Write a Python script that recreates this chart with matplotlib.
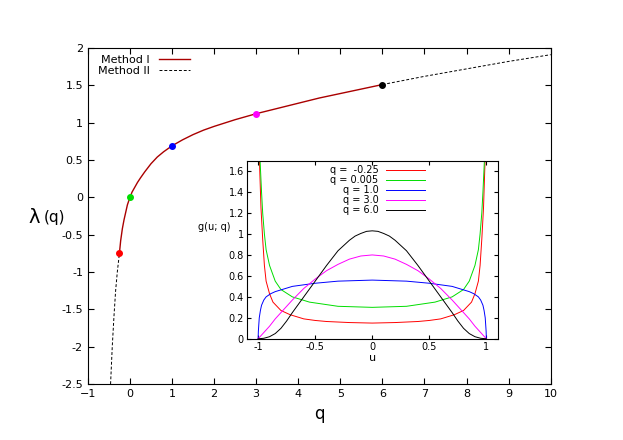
import numpy as np
import matplotlib
matplotlib.use("Agg")
import matplotlib.pyplot as plt

# main curve (Method I)
q1 = [-0.25, -0.22, -0.18, -0.14, -0.1, -0.06, -0.03, 0.0, 0.05, 0.1, 0.18, 0.25, 0.35, 0.5, 0.65, 0.8, 1.0, 1.25, 1.5, 1.75, 2.0, 2.5, 3.0, 3.5, 4.0, 4.5, 5.0, 5.5, 6.0]
l1 = [-0.75, -0.58, -0.42, -0.3, -0.2, -0.1, -0.05, 0.0, 0.07, 0.12, 0.2, 0.26, 0.34, 0.45, 0.54, 0.61, 0.69, 0.77, 0.84, 0.9, 0.95, 1.04, 1.12, 1.19, 1.26, 1.33, 1.39, 1.45, 1.51]
# Method II (dashed extensions)
q2a = [-0.46, -0.42, -0.38, -0.34, -0.3, -0.25]
l2a = [-2.5, -2.0, -1.6, -1.25, -1.0, -0.75]
q2b = [6.0, 7.0, 8.0, 9.0, 10.0]
l2b = [1.51, 1.62, 1.72, 1.82, 1.91]
# highlighted points
qp = [-0.25, 0.005, 1.0, 3.0, 6.0]
lp = [-0.75, 0.0, 0.69, 1.12, 1.51]
cols = ["red", "#00dd00", "blue", "magenta", "black"]
labels = ["q =  -0.25", "q = 0.005", "q = 1.0", "q = 3.0", "q = 6.0"]

# inset g(u;q), left half (u<=0), mirrored
u_red = [-0.99, -0.975, -0.96, -0.945, -0.93, -0.9, -0.87, -0.8, -0.72, -0.6, -0.5, -0.4, -0.2, 0.0]
g_red = [1.75, 1.25, 0.95, 0.7, 0.55, 0.43, 0.35, 0.27, 0.23, 0.19, 0.175, 0.165, 0.155, 0.15]
u_grn = [-0.985, -0.97, -0.96, -0.945, -0.93, -0.9, -0.85, -0.8, -0.7, -0.55, -0.3, 0.0]
g_grn = [1.75, 1.4, 1.2, 1.0, 0.85, 0.7, 0.55, 0.47, 0.4, 0.35, 0.31, 0.3]
u_blu = [-1.0, -0.998, -0.995, -0.99, -0.98, -0.97, -0.95, -0.93, -0.89, -0.85, -0.7, -0.5, -0.3, 0.0]
g_blu = [0.0, 0.07, 0.12, 0.2, 0.27, 0.32, 0.37, 0.4, 0.43, 0.45, 0.5, 0.53, 0.55, 0.56]
u_mag = [-1.0, -0.95, -0.9, -0.85, -0.8, -0.7, -0.6, -0.5, -0.4, -0.3, -0.2, -0.1, 0.0]
g_mag = [0.0, 0.06, 0.12, 0.19, 0.25, 0.37, 0.48, 0.57, 0.65, 0.71, 0.76, 0.79, 0.8]
u_blk = [-1.0, -0.95, -0.9, -0.85, -0.8, -0.75, -0.7, -0.6, -0.5, -0.4, -0.3, -0.2, -0.15, -0.1, -0.05, 0.0]
g_blk = [0.0, 0.005, 0.02, 0.05, 0.1, 0.17, 0.25, 0.4, 0.55, 0.7, 0.84, 0.94, 0.98, 1.005, 1.025, 1.03]

def mirror(u, g):
    u = np.array(u); g = np.array(g)
    return np.concatenate([u, -u[-2::-1]]), np.concatenate([g, g[-2::-1]])

plt.rcParams["font.family"] = "DejaVu Sans"
fig = plt.figure(figsize=(6.23, 4.40), dpi=100)
ax = fig.add_axes([0.141, 0.127, 0.743, 0.764])
ax.plot(q1, l1, color="#aa0000", lw=1.0, label="Method I")
ax.plot(q2a, l2a, color="black", lw=0.7, ls=(0, (3, 2)), label="Method II")
ax.plot(q2b, l2b, color="black", lw=0.7, ls=(0, (3, 2)))
for x, y, c in zip(qp, lp, cols):
    ax.plot(x, y, "o", color=c, ms=4, zorder=5)
ax.set_xlim(-1, 10)
ax.set_ylim(-2.5, 2)
ax.set_xticks(range(-1, 11))
ax.set_yticks(np.arange(-2.5, 2.01, 0.5))
ax.set_yticklabels(["-2.5", "-2", "-1.5", "-1", "-0.5", "0", "0.5", "1", "1.5", "2"])
ax.tick_params(direction="in", top=True, right=True, labelsize=8, length=4)
ax.set_xlabel("q", fontsize=12, labelpad=4)
ax.legend(loc="upper left", frameon=False, fontsize=8, handlelength=2.8,
          bbox_to_anchor=(0.0, 1.01), labelspacing=0.1, markerfirst=False)
fig.text(0.045, 0.505, "λ", fontsize=14, ha="left", va="center")
fig.text(0.07, 0.505, "(q)", fontsize=11, ha="left", va="center")

ins = fig.add_axes([0.396, 0.23, 0.403, 0.405])
for (u, g), c, lab in zip([(u_red, g_red), (u_grn, g_grn), (u_blu, g_blu), (u_mag, g_mag), (u_blk, g_blk)], cols, labels):
    uu, gg = mirror(u, g)
    ins.plot(uu, gg, color=c, lw=0.7, label=lab)
ins.set_xlim(-1.1, 1.1)
ins.set_ylim(0, 1.7)
ins.set_xticks([-1, -0.5, 0, 0.5, 1])
ins.set_xticklabels(["-1", "-0.5", "0", "0.5", "1"])
ins.set_yticks(np.arange(0, 1.61, 0.2))
ins.set_yticklabels(["0", "0.2", "0.4", "0.6", "0.8", "1", "1.2", "1.4", "1.6"])
ins.tick_params(direction="in", top=True, right=True, labelsize=7, length=3, pad=2)
ins.set_xlabel("u", fontsize=8, labelpad=1)
ins.set_ylabel("g(u; q)", fontsize=7, rotation=0, labelpad=4)
ins.yaxis.set_label_coords(-0.13, 0.6)
ins.legend(loc="upper center", frameon=False, fontsize=7, markerfirst=False,
           handlelength=4, labelspacing=0.0, borderaxespad=0.1, bbox_to_anchor=(0.52, 1.0))
fig.savefig("out.png", dpi=100)
